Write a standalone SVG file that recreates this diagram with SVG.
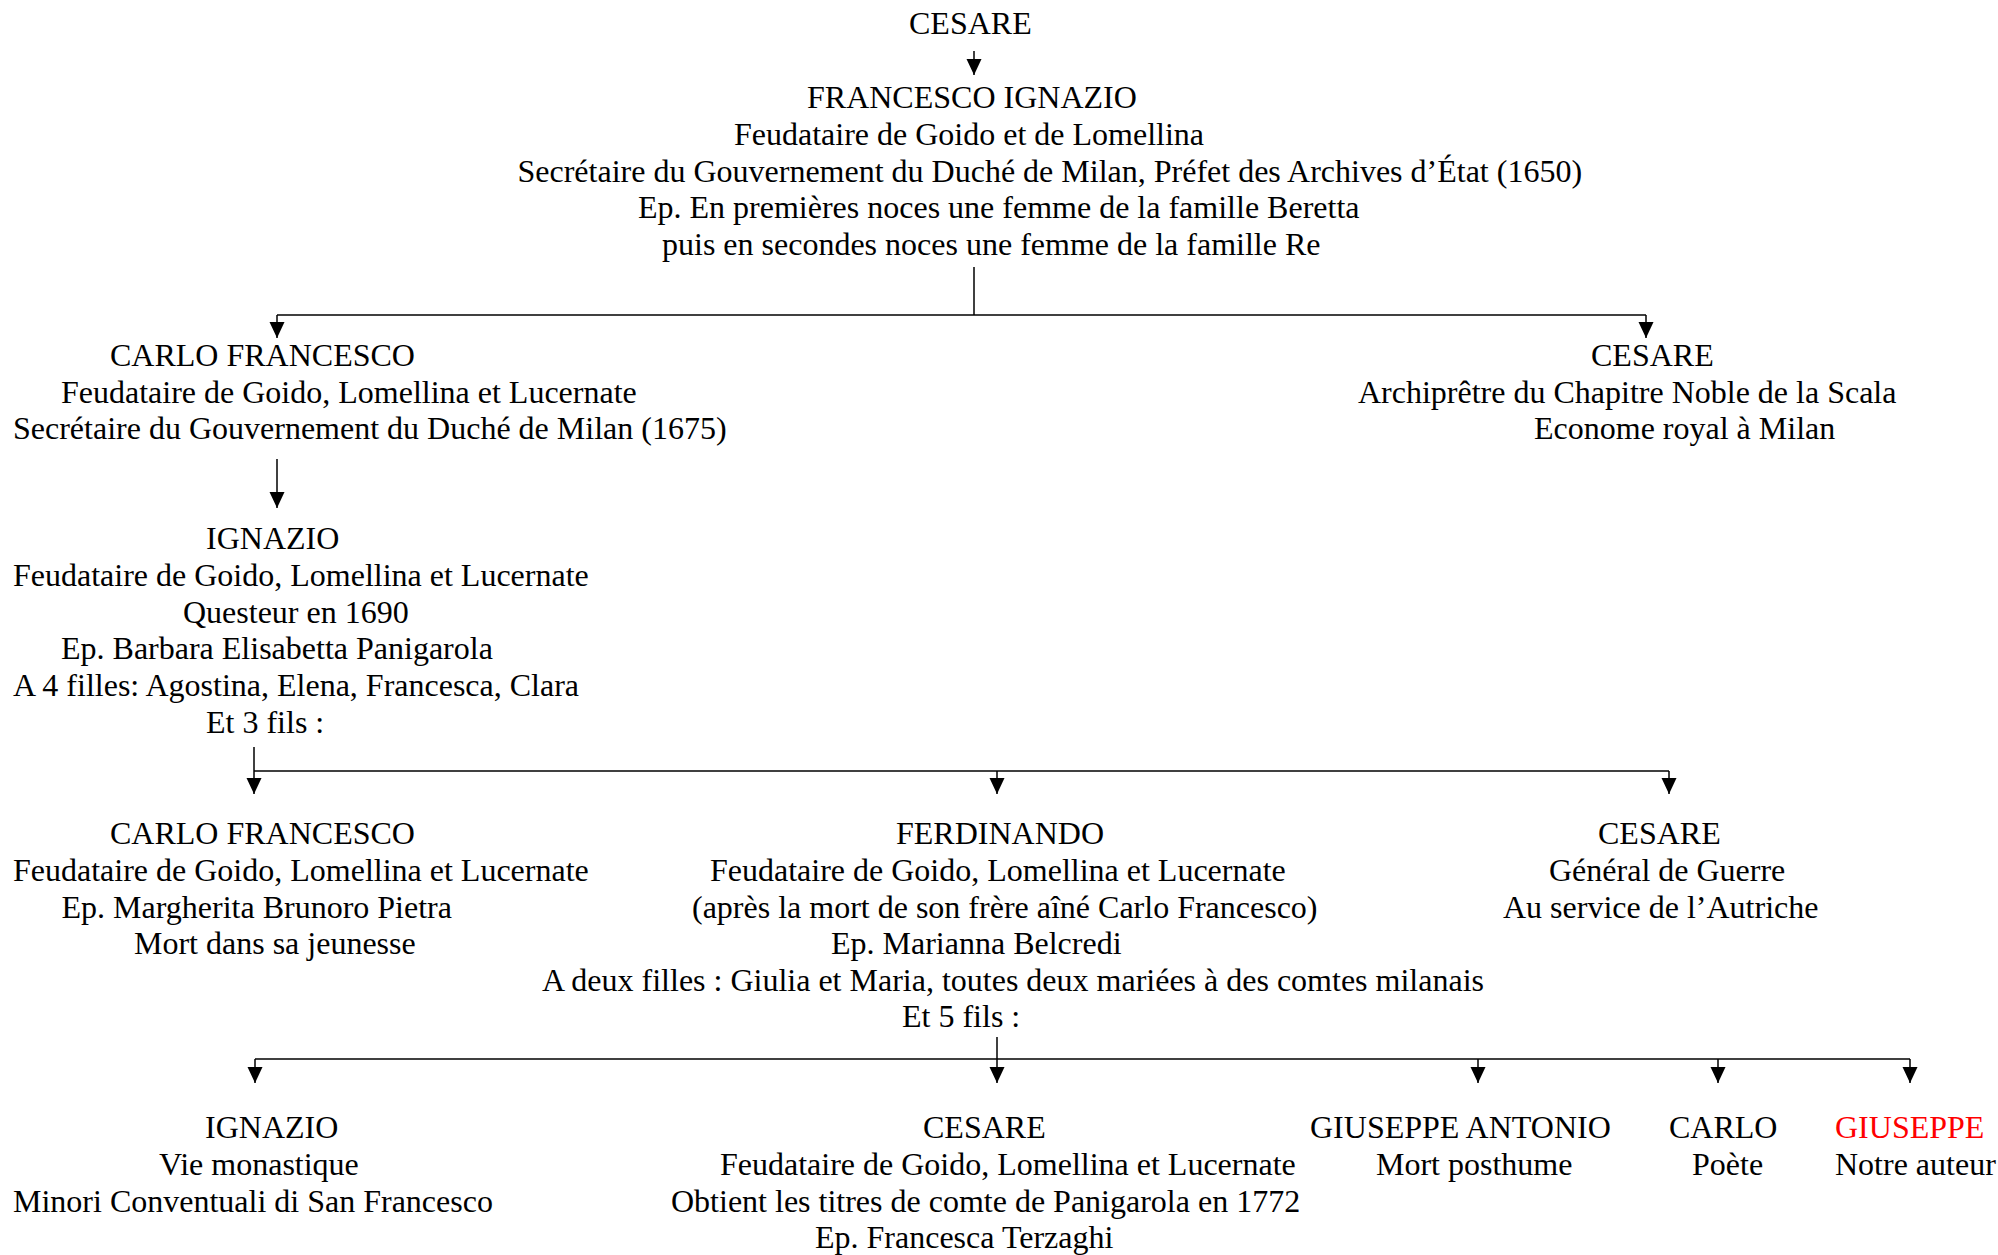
<svg xmlns="http://www.w3.org/2000/svg" width="1998" height="1255" viewBox="0 0 1998 1255">
<style>
text{font-family:"Liberation Serif","Times New Roman",serif;font-size:32px;fill:#000}
.red{fill:#ff0000}
.c{stroke:#000;stroke-width:1.5;fill:none}
</style>
<defs>
<marker id="ah" markerUnits="userSpaceOnUse" markerWidth="17" markerHeight="16" refX="16" refY="7.5" orient="auto">
<path d="M0,0 L16,7.5 L0,15 z" fill="#000"/>
</marker>
</defs>
<rect width="1998" height="1255" fill="#fff"/>
<g id="connectors">
<path class="c" d="M974,51 V75" marker-end="url(#ah)"/>
<path class="c" d="M974,267 V315"/>
<path class="c" d="M277,315 H1646"/>
<path class="c" d="M277,315 V338" marker-end="url(#ah)"/>
<path class="c" d="M1646,315 V338" marker-end="url(#ah)"/>
<path class="c" d="M277,459 V508" marker-end="url(#ah)"/>
<path class="c" d="M254,747 V794" marker-end="url(#ah)"/>
<path class="c" d="M254,771 H1669"/>
<path class="c" d="M997,771 V794" marker-end="url(#ah)"/>
<path class="c" d="M1669,771 V794" marker-end="url(#ah)"/>
<path class="c" d="M997,1037 V1059"/>
<path class="c" d="M255,1059 H1910"/>
<path class="c" d="M255,1059 V1083" marker-end="url(#ah)"/>
<path class="c" d="M997,1059 V1083" marker-end="url(#ah)"/>
<path class="c" d="M1478,1059 V1083" marker-end="url(#ah)"/>
<path class="c" d="M1718,1059 V1083" marker-end="url(#ah)"/>
<path class="c" d="M1910,1059 V1083" marker-end="url(#ah)"/>
</g>
<g id="cesare-root">
<text x="909" y="34">CESARE</text>
</g>
<g id="francesco-ignazio">
<text x="807" y="108">FRANCESCO IGNAZIO</text>
<text x="734" y="145">Feudataire de Goido et de Lomellina</text>
<text x="517.5" y="181.5">Secrétaire du Gouvernement du Duché de Milan, Préfet des Archives d’État (1650)</text>
<text x="638" y="218">Ep. En premières noces une femme de la famille Beretta</text>
<text x="662" y="255">puis en secondes noces une femme de la famille Re</text>
</g>
<g id="carlo-francesco-1">
<text x="110" y="366">CARLO FRANCESCO</text>
<text x="61" y="402.5">Feudataire de Goido, Lomellina et Lucernate</text>
<text x="13" y="439">Secrétaire du Gouvernement du Duché de Milan (1675)</text>
</g>
<g id="cesare-archipretre">
<text x="1591" y="366">CESARE</text>
<text x="1358" y="402.5">Archiprêtre du Chapitre Noble de la Scala</text>
<text x="1534" y="439">Econome royal à Milan</text>
</g>
<g id="ignazio-1">
<text x="206" y="549">IGNAZIO</text>
<text x="13" y="586">Feudataire de Goido, Lomellina et Lucernate</text>
<text x="183" y="622.5">Questeur en 1690</text>
<text x="61" y="659">Ep. Barbara Elisabetta Panigarola</text>
<text x="13" y="696">A 4 filles: Agostina, Elena, Francesca, Clara</text>
<text x="206" y="732.5">Et 3 fils :</text>
</g>
<g id="carlo-francesco-2">
<text x="110" y="844">CARLO FRANCESCO</text>
<text x="13" y="881">Feudataire de Goido, Lomellina et Lucernate</text>
<text x="61.5" y="917.5">Ep. Margherita Brunoro Pietra</text>
<text x="134" y="954">Mort dans sa jeunesse</text>
</g>
<g id="ferdinando">
<text x="896" y="844">FERDINANDO</text>
<text x="710" y="881">Feudataire de Goido, Lomellina et Lucernate</text>
<text x="692" y="917.5">(après la mort de son frère aîné Carlo Francesco)</text>
<text x="831" y="954">Ep. Marianna Belcredi</text>
<text x="542" y="990.5">A deux filles : Giulia et Maria, toutes deux mariées à des comtes milanais</text>
<text x="902" y="1027">Et 5 fils :</text>
</g>
<g id="cesare-general">
<text x="1598" y="844">CESARE</text>
<text x="1549" y="881">Général de Guerre</text>
<text x="1503" y="917.5">Au service de l’Autriche</text>
</g>
<g id="ignazio-2">
<text x="205" y="1138">IGNAZIO</text>
<text x="159" y="1175">Vie monastique</text>
<text x="13" y="1211.5">Minori Conventuali di San Francesco</text>
</g>
<g id="cesare-comte">
<text x="923" y="1138">CESARE</text>
<text x="720" y="1175">Feudataire de Goido, Lomellina et Lucernate</text>
<text x="671" y="1211.5">Obtient les titres de comte de Panigarola en 1772</text>
<text x="815" y="1248">Ep. Francesca Terzaghi</text>
</g>
<g id="giuseppe-antonio">
<text x="1310" y="1138">GIUSEPPE ANTONIO</text>
<text x="1376" y="1175">Mort posthume</text>
</g>
<g id="carlo">
<text x="1669" y="1138">CARLO</text>
<text x="1692" y="1175">Poète</text>
</g>
<g id="giuseppe">
<text class="red" x="1835" y="1138">GIUSEPPE</text>
<text x="1835" y="1175">Notre auteur</text>
</g>
</svg>
